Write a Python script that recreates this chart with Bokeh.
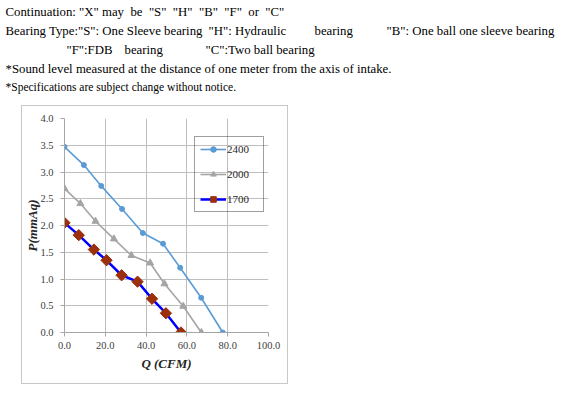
import math
from bokeh.plotting import figure
from bokeh.models import (Range1d, FixedTicker, NumeralTickFormatter, Legend, LegendItem,
                          ColumnDataSource, Spacer)
from bokeh.layouts import column, row
from bokeh.embed import file_html
from bokeh.resources import INLINE

# ---- data ----
q_2400 = [0, 9.5, 18.0, 28.2, 38.4, 48.3, 56.7, 67.0, 77.6]
p_2400 = [3.47, 3.13, 2.74, 2.31, 1.86, 1.66, 1.21, 0.65, 0.0]

q_2000 = [0, 7.8, 15.2, 24.2, 32.8, 42.0, 49.0, 58.2, 67.1]
p_2000 = [2.69, 2.41, 2.08, 1.75, 1.44, 1.30, 0.91, 0.49, 0.0]

q_1700 = [0, 7.0, 14.4, 20.6, 28.0, 35.8, 42.9, 49.7, 57.1]
p_1700 = [2.05, 1.82, 1.55, 1.35, 1.07, 0.95, 0.63, 0.36, 0.0]

series_names = ["2400", "2000", "1700"]
x_ticks = [0, 20, 40, 60, 80, 100]
y_ticks = [0, 0.5, 1.0, 1.5, 2.0, 2.5, 3.0, 3.5, 4.0]

NB = "\u00a0"
note_text = [
    f'Continuation: "X" may{NB} be{NB} "S"{NB} "H"{NB} "B"{NB} "F"{NB} or{NB} "C"',
    'Bearing Type:"S": One Sleeve bearing',
    '"H": Hydraulic',
    'bearing',
    '"B": One ball one sleeve bearing',
    '"F":FDB',
    'bearing',
    '"C":Two ball bearing',
    '*Sound level measured at the distance of one meter from the axis of intake.',
    '*Specifications are subject change without notice.',
]
note_x = [5, 5, 208, 314, 386, 66, 124, 205, 5, 5]
note_y = [11, 30, 30, 30, 30, 49, 49, 49, 68, 86]
note_size = ["12.8px"] * 9 + ["11.5px"]

SERIF = "Liberation Serif"

# ---- text block ----
t = figure(width=567, height=105, output_backend="svg", toolbar_location=None,
           x_range=Range1d(0, 567), y_range=Range1d(105, 0),
           x_axis_type=None, y_axis_type=None, min_border=0)
t.outline_line_color = None
t.grid.visible = False
src = ColumnDataSource(dict(text=note_text, x=note_x, y=note_y, size=note_size))
t.text(x="x", y="y", text="text", source=src, text_font_size="size",
       text_font={"value": SERIF}, text_color="black",
       text_baseline="middle", text_align="left")

# ---- chart ----
p = figure(width=267, height=279, output_backend="svg", toolbar_location=None,
           x_range=Range1d(0, 100), y_range=Range1d(0, 4),
           min_border_left=42, min_border_right=21, min_border_top=12, min_border_bottom=53,
           styles={"border": "1px solid #c8c8c8"})
p.outline_line_color = None

for ax, ticks in ((p.xaxis[0], x_ticks), (p.yaxis[0], y_ticks)):
    ax.ticker = FixedTicker(ticks=ticks)
    ax.formatter = NumeralTickFormatter(format="0.0")
    ax.axis_line_color = "#a6a6a6"
    ax.major_tick_line_color = "#a6a6a6"
    ax.major_tick_in = 0
    ax.major_tick_out = 4
    ax.minor_tick_line_color = None
    ax.major_label_text_font = SERIF
    ax.major_label_text_font_size = "10.5px"
    ax.major_label_text_color = "#404040"
    ax.axis_label_text_font = SERIF
    ax.axis_label_text_font_size = "13px"
    ax.axis_label_text_font_style = "bold italic"
    ax.axis_label_text_color = "#262626"

p.xaxis.axis_label = "Q (CFM)"
p.yaxis.axis_label = "P(mmAq)"
p.xaxis.major_label_standoff = 5
p.yaxis.major_label_standoff = 7
p.xaxis.axis_label_standoff = 4
p.yaxis.axis_label_standoff = -3

p.xgrid.ticker = FixedTicker(ticks=x_ticks)
p.ygrid.ticker = FixedTicker(ticks=y_ticks)
p.grid.grid_line_color = "#bfbfbf"
p.grid.grid_line_width = 1

l1 = p.line(q_2400, p_2400, line_color="#5b9bd5", line_width=1.6)
m1 = p.scatter(q_2400, p_2400, marker="circle", size=5, fill_color="#5b9bd5", line_color="#5b9bd5")
l2 = p.line(q_2000, p_2000, line_color="#a5a5a5", line_width=1.6)
m2 = p.scatter(q_2000, p_2000, marker="triangle", size=7, fill_color="#a5a5a5", line_color="#a5a5a5")
l3 = p.line(q_1700, p_1700, line_color="#0000ff", line_width=2.5)
m3 = p.scatter(q_1700, p_1700, marker="square", size=8, angle=math.pi / 4,
               fill_color="#9c2f0c", line_color="#9c2f0c")

legend = Legend(items=[LegendItem(label=series_names[0], renderers=[l1, m1]),
                       LegendItem(label=series_names[1], renderers=[l2, m2]),
                       LegendItem(label=series_names[2], renderers=[l3, m3])],
                location=(130, 120))
legend.background_fill_alpha = 0
legend.border_line_color = "#404040"
legend.border_line_width = 1
legend.padding = 5
legend.margin = 0
legend.spacing = 11
legend.glyph_width = 26
legend.glyph_height = 14
legend.label_height = 14
legend.label_width = 31
legend.label_standoff = 1
legend.label_text_font = SERIF
legend.label_text_font_size = "11px"
legend.label_text_color = "#262626"
p.add_layout(legend)

layout = column(t, row(Spacer(width=21), p, spacing=0), spacing=0)
open("out.html", "w").write(file_html(layout, INLINE))
